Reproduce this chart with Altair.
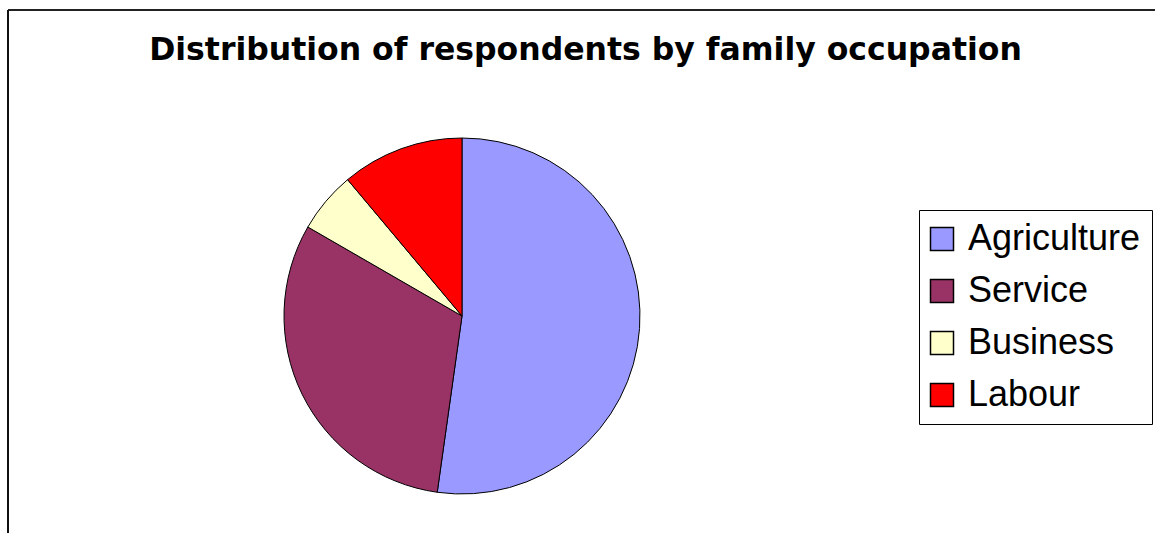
import altair as alt
import pandas as pd

categories = ["Agriculture", "Service", "Business", "Labour"]
values = [47, 28, 5, 10]
colors = ["#9999FF", "#993366", "#FFFFCC", "#FF0000"]
title_text = "Distribution of respondents by family occupation"

df = pd.DataFrame({"occupation": categories, "count": values, "order": list(range(len(categories)))})

W, H = 1155, 533

pie = alt.Chart(df).mark_arc(stroke="black", strokeWidth=1, radius=178).encode(
    theta=alt.Theta("count:Q", stack=True),
    order=alt.Order("order:Q"),
    color=alt.Color(
        "occupation:N",
        scale=alt.Scale(domain=categories, range=colors),
        sort=categories,
        legend=alt.Legend(
            title=None,
            orient="none",
            legendX=919,
            legendY=210,
            symbolType="square",
            symbolSize=529,
            symbolStrokeColor="black",
            symbolStrokeWidth=1.5,
            symbolOffset=-6,
            labelFontSize=36,
            labelFont="Liberation Sans",
            labelColor="black",
            labelOffset=8,
            rowPadding=16,
            padding=11,
            strokeColor="black",
            fillColor="white",
            labelLimit=300,
        ),
    ),
    x=alt.value(462),
    y=alt.value(316),
)

frame_top = alt.Chart(df).mark_rule(color="#222", strokeWidth=1.5).encode(
    x=alt.value(8), x2=alt.value(W), y=alt.value(10)
)
frame_left = alt.Chart(df).mark_rule(color="#111", strokeWidth=2).encode(
    x=alt.value(8), y=alt.value(10), y2=alt.value(H)
)

chart = alt.layer(frame_top, frame_left, pie).properties(
    width=W,
    height=H,
    padding=0,
    autosize=alt.AutoSizeParams(type="none"),
    title=alt.TitleParams(
        title_text,
        font="DejaVu Sans",
        fontSize=31.5,
        fontWeight="bold",
        color="black",
        anchor="middle",
        orient="top",
        baseline="alphabetic",
        offset=-91,
        dx=8,
    ),
).configure_view(stroke=None)

chart.save("out.html", embed_options={"renderer": "svg", "actions": False})
